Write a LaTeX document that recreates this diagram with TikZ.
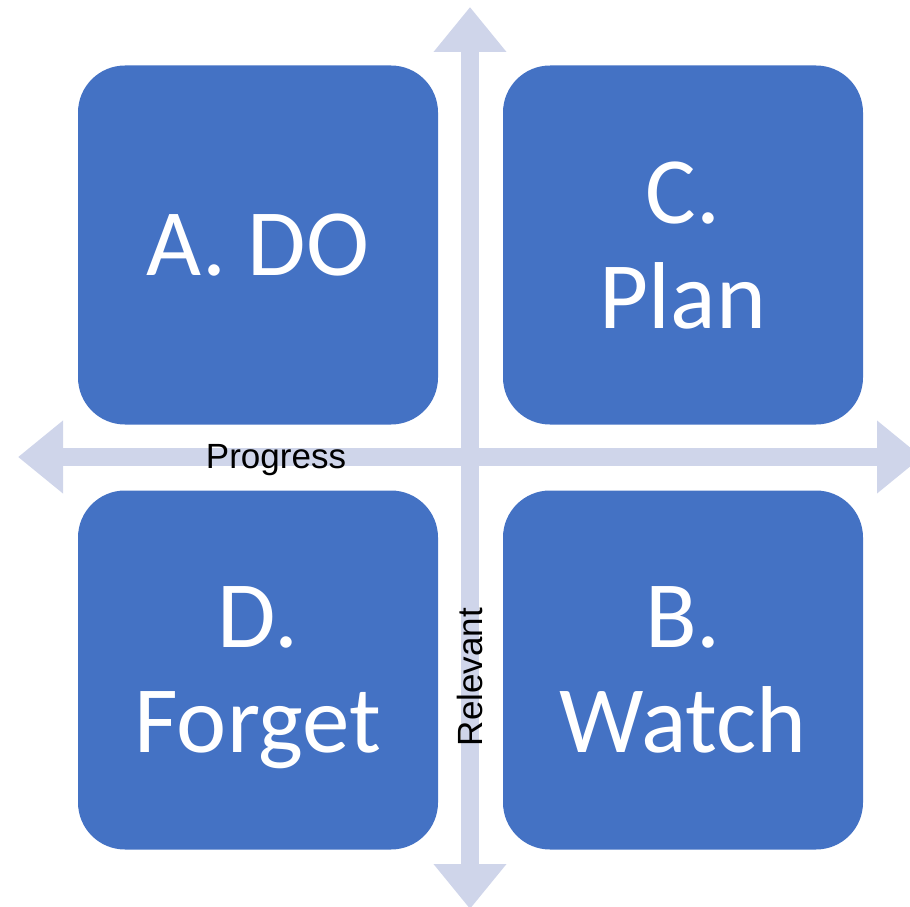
\documentclass[tikz,border=0pt]{standalone}
\usepackage{fontspec}
\setmainfont{Liberation Sans}
\newfontfamily\quadfont{Carlito}
\usetikzlibrary{arrows.meta}
\definecolor{quadblue}{HTML}{4472C4}
\definecolor{axisgray}{HTML}{CFD5EA}
\tikzset{
  quad/.style={fill=quadblue, rounded corners=47pt, minimum width=360pt, minimum height=359pt,
    inner sep=0pt, text=white, align=center, text depth=0pt,
    font=\quadfont\fontsize{95}{105}\selectfont},
  axis/.style={draw=axisgray, line width=18pt,
    {Triangle[length=45pt,width=70pt]}-{Triangle[length=45pt,width=70pt]}},
  axislabel/.style={font=\fontsize{35}{40}\selectfont, inner sep=0pt}
}
\begin{document}
\begin{tikzpicture}[x=1pt, y=-1pt]
        \useasboundingbox (0, 0) rectangle (910, 907);

        \coordinate (top) at (470, 7);
        \coordinate (bottom) at (470, 909);
        \coordinate (left) at (18, 457);
        \coordinate (right) at (922, 457);

        \draw[axis] (left) -- (right);
        \draw[axis] (top) -- (bottom);

        \node[quad] (do) at (258, 245) {A. DO};
        \node[quad] (plan) at (683, 245) {C.\\Plan};
        \node[quad] (forget) at (258, 670) {D.\\Forget};
        \node[quad] (watch) at (683, 670) {B.\\Watch};

        \node[axislabel] (progress) at (276, 460) {Progress};
        \node[axislabel, rotate=90] (relevant) at (470, 677) {Relevant};
      \end{tikzpicture}
\end{document}
